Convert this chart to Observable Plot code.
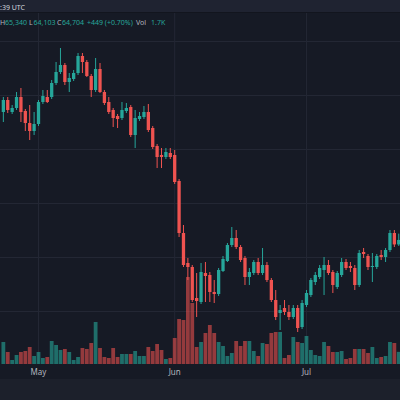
<!DOCTYPE html>
<html><head><meta charset="utf-8">
<script src="https://cdn.jsdelivr.net/npm/d3@7"></script>
<script src="https://cdn.jsdelivr.net/npm/@observablehq/plot@0.6"></script>
<style>
html,body{margin:0;padding:0;background:#161a25;}
#wrap{position:relative;width:400px;height:400px;overflow:hidden;background:#161a25;font-family:"Noto Sans",Roboto,sans-serif;}
#wrap svg{position:absolute;left:0;top:0;}
#topbar{position:absolute;left:0;top:0;width:400px;height:12px;background:#1f2331;border-bottom:1px solid #12151e;z-index:5;}
#bottombar{position:absolute;left:0;top:379px;width:400px;height:21px;background:#1c202b;z-index:5;}
.t{position:absolute;font-size:7px;white-space:nowrap;line-height:1;z-index:6;}
</style></head><body><div id="wrap"></div>
<script>
const startDay = "2024-04-23";
const opens = [77500,78700,77500,77900,79000,77600,76400,75600,76300,78500,
  79000,79000,80400,81500,82200,80500,80800,81400,83100,82500,
  81100,79700,81800,79500,78500,77700,77100,76900,77600,78000,
  75200,76800,77000,77500,75900,74100,73200,73000,73400,73200,
  70600,65400,62400,62000,58900,58500,61400,61200,59500,59300,
  61600,62600,64200,64900,64000,62900,61000,61400,62500,61400,
  62200,60700,58700,57400,57900,57500,57000,57900,56000,58200,
  59200,60500,61000,61700,62200,61500,60000,61200,62500,62100,
  61900,60200,63500,63100,62000,62000,63200,63000,63700,65400,
  64255];
const closes = [78700,77700,77900,79000,77500,76400,75600,76300,78500,79100,
  78500,80400,81500,82200,80500,80900,81400,83100,82500,81100,
  79700,81800,79500,78400,77500,76900,76800,77700,77900,75200,
  76900,77100,77500,75700,74000,73000,73000,73500,73000,70500,
  65400,62200,62000,58700,58600,61500,61100,59500,59300,61700,
  62800,64200,64900,64000,62700,61000,61500,62500,61400,62200,
  60700,58700,57000,57700,57500,57000,57900,55900,58400,59400,
  60700,61200,61900,62200,61400,60200,61400,62500,61900,61900,
  60200,63400,63300,62000,62100,63100,63000,63700,65400,64255,
  64704];
const highs = [79000,79000,78200,79500,79900,77800,78200,77500,78700,79700,
  79700,80700,82500,83900,82400,81400,81700,83400,83400,82700,
  81300,82900,82400,79700,79000,77900,77300,78500,78400,78200,
  77700,77500,78100,78300,76100,74300,73900,73900,73900,73700,
  70800,66200,62900,62200,61400,62400,62500,61500,60700,61900,
  63100,64400,66000,65700,64200,63100,61900,62700,62900,63900,
  62500,60900,59700,58200,58700,58200,58200,58200,58700,59700,
  60900,61500,62200,63000,62700,61700,61600,62900,62800,62500,
  62200,63700,63900,63300,63400,63300,63700,63900,65700,65700,
  65340];
const lows = [76500,77400,77300,77700,76500,75600,74700,75200,76100,78300,
  78400,78800,80200,81300,80200,79500,80600,81200,81400,81000,
  79000,79500,79400,78200,77300,76000,75900,76700,77400,75000,
  73900,76600,76800,75500,73800,71900,71900,72800,72800,70300,
  65000,62000,60700,58500,57000,58300,58500,58500,58400,59100,
  61500,62500,64000,63800,62500,60200,60200,61200,61200,61200,
  60500,58500,56700,55700,57200,56700,56800,55500,55800,58000,
  59000,60200,60800,59200,61200,59400,59800,61000,61700,61500,
  59700,60000,62900,61700,60500,61800,62700,62500,63500,64000,
  64103];
const volumes = [3080,1680,560,1260,1680,1820,2380,1120,1680,840,
  980,3220,2660,1960,2100,1680,560,980,2240,2100,
  2940,5880,2240,980,840,2240,980,1400,1400,1400,
  1820,1120,1120,2380,1820,2800,1960,700,840,3640,
  6300,6160,12180,8540,2380,3080,4340,5460,4340,3080,
  2520,1120,1540,3220,2520,3220,3220,1820,1120,2940,
  2800,4340,4480,4480,840,1260,3780,3080,2940,3920,
  1960,1260,1120,3080,2520,1680,1680,1820,700,840,
  2100,2100,2100,1540,2380,840,980,1120,3080,2940,
  1700];
const monthTicks = ["2024-05-01","2024-06-01","2024-07-01"];
const monthLabels = ["May","Jun","Jul"];
const gridPrices = [84600,79200,73800,68400,63000,57600];

const UP = "#26a69a", DOWN = "#ef5350";
const UPV = "rgba(38,166,154,0.6)", DOWNV = "rgba(239,83,80,0.58)";
const GRID = "#232734";

const data = opens.map((o, i) => ({
  date: d3.utcDay.offset(new Date(startDay + "T00:00Z"), i),
  open: o, close: closes[i], high: highs[i], low: lows[i], volume: volumes[i]
}));
const ups = data.filter(d => d.close >= d.open);
const downs = data.filter(d => d.close < d.open);
const tickDates = monthTicks.map(s => new Date(s + "T00:00Z"));

const xScale = {type: "utc", domain: [new Date("2024-04-22T08:24Z"), new Date("2024-07-22T09:36Z")], range: [0, 400]};
const yPrice = {domain: [52300, 88700], range: [364, 0], axis: null};
const base = {width: 400, height: 400, marginTop: 13, marginBottom: 36, marginLeft: 0, marginRight: 0,
  style: {background: "transparent", color: "#b2b5be", fontFamily: "'Noto Sans', Roboto, sans-serif", fontSize: "8px", overflow: "visible"}};

const gridLayer = Plot.plot({...base, x: xScale, y: yPrice,
  marks: [
    Plot.ruleY(gridPrices, {stroke: GRID, strokeWidth: 1}),
    Plot.ruleX(tickDates, {stroke: GRID, strokeWidth: 1}),
    Plot.axisX(tickDates, {anchor: "bottom", tickSize: 0, tickPadding: 5, fill: "#b2b5be",
      tickFormat: d => monthLabels[tickDates.findIndex(t => +t === +d)]})
  ]});

const volLayer = Plot.plot({...base, x: {...xScale, axis: null}, y: {domain: [0, 50960], range: [364, 0], axis: null},
  marks: [
    Plot.ruleX(ups, {x: "date", y1: 0, y2: "volume", stroke: UPV, strokeWidth: 3.8}),
    Plot.ruleX(downs, {x: "date", y1: 0, y2: "volume", stroke: DOWNV, strokeWidth: 3.8})
  ]});

const candleLayer = Plot.plot({...base, x: {...xScale, axis: null}, y: yPrice,
  marks: [
    Plot.ruleX(ups, {x: "date", y1: "low", y2: "high", stroke: UP, strokeWidth: 1}),
    Plot.ruleX(downs, {x: "date", y1: "low", y2: "high", stroke: DOWN, strokeWidth: 1}),
    Plot.ruleX(ups, {x: "date", y1: "open", y2: "close", stroke: UP, strokeWidth: 3.3}),
    Plot.ruleX(downs, {x: "date", y1: "open", y2: "close", stroke: DOWN, strokeWidth: 3.3})
  ]});

const wrap = document.getElementById("wrap");
wrap.append(gridLayer, volLayer, candleLayer);

const lastBar = data[data.length - 1];
const prevBar = data[data.length - 2];
const fmt = d3.format(",");
const chg = lastBar.close - prevBar.close;
const pct = chg / prevBar.close * 100;
const volFmt = v => (v / 1000).toFixed(1) + "K";
const legendItems = [
  {x: 0, y: 4, text: ":39 UTC", color: "#d1d4dc"},
  {x: 0, y: 19, text: "H", color: "#b2b5be"},
  {x: 5, y: 19, text: fmt(lastBar.high), color: UP},
  {x: 29, y: 19, text: "L", color: "#b2b5be"},
  {x: 33.5, y: 19, text: fmt(lastBar.low), color: UP},
  {x: 57, y: 19, text: "C", color: "#b2b5be"},
  {x: 62, y: 19, text: fmt(lastBar.close), color: UP},
  {x: 87, y: 19, text: "+" + chg + " (+" + pct.toFixed(2) + "%)", color: UP},
  {x: 136, y: 19, text: "Vol", color: "#b2b5be"},
  {x: 151, y: 19, text: volFmt(lastBar.volume), color: UP}
];
const topBarEl = document.createElement("div"); topBarEl.id = "topbar"; wrap.append(topBarEl);
const botBarEl = document.createElement("div"); botBarEl.id = "bottombar"; wrap.append(botBarEl);
for (const it of legendItems) {
  const s = document.createElement("span");
  s.className = "t"; s.textContent = it.text;
  s.style.left = it.x + "px"; s.style.top = it.y + "px"; s.style.color = it.color;
  wrap.append(s);
}
</script></body></html>
